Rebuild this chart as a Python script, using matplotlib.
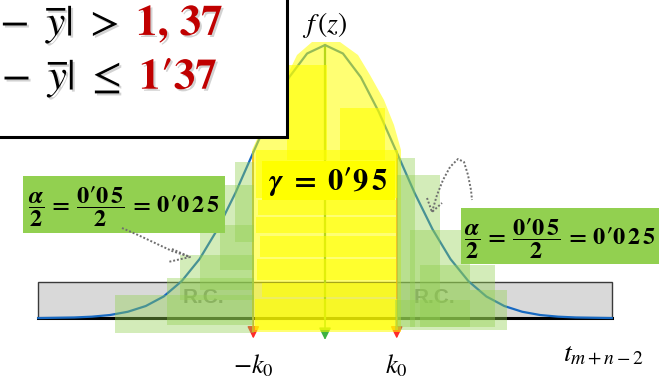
import matplotlib
matplotlib.use('Agg')
import matplotlib.pyplot as plt
from matplotlib.patches import Rectangle, Polygon
import matplotlib.patheffects as pe

plt.rcParams['mathtext.fontset'] = 'stix'

# density of the statistic, peak scaled to 1
z = [-4.0, -3.75, -3.5, -3.25, -3.0, -2.75, -2.5, -2.25, -2.0, -1.75, -1.5, -1.25,
     -1.0, -0.75, -0.5, -0.25, 0.0, 0.25, 0.5, 0.75, 1.0, 1.25, 1.5, 1.75,
     2.0, 2.25, 2.5, 2.75, 3.0, 3.25, 3.5, 3.75, 4.0]
f = [0.000, 0.001, 0.002, 0.005, 0.011, 0.023, 0.044, 0.079, 0.135, 0.216, 0.325, 0.458,
     0.607, 0.755, 0.882, 0.969, 1.000, 0.969, 0.882, 0.755, 0.607, 0.458, 0.325, 0.216,
     0.135, 0.079, 0.044, 0.023, 0.011, 0.005, 0.002, 0.001, 0.000]
k0 = 1.0
rc_pos = [-1.69, 1.53]
rc_text = ['R.C.', 'R.C.']

fig = plt.figure(figsize=(6.59, 3.80), dpi=100)

# ---- main axes: curve, critical values, rejection box
ax = fig.add_axes([0, 0, 1, 1])
ax.set_xlim(-4.533, 4.658)
ax.set_ylim(-0.227, 1.165)
ax.axis('off')

ax.add_patch(Rectangle((z[0], 0), z[-1] - z[0], 0.132, fc='#d9d9d9', ec='#3a3a3a', lw=1, zorder=1))
ax.plot([z[0], z[-1]], [0, 0], color='black', lw=2.2, zorder=2)
for xp, t in zip(rc_pos, rc_text):
    ax.text(xp, 0.077, t, color='#7f7f7f', fontsize=15, fontweight='bold',
            family='Liberation Sans', ha='center', va='center', zorder=3)
ax.plot(z, f, color='#1769c2', lw=1.6, zorder=4)

fk = f[z.index(k0)]
ax.plot([0, 0], [0, 1], color='#62a83a', lw=1.6, zorder=3)
for xk in (-k0, k0):
    ax.plot([xk, xk], [0, fk], color='#e8561c', lw=1.1, zorder=3)
    ax.annotate('', xy=(xk, -0.075), xytext=(xk, 0),
                arrowprops=dict(arrowstyle='-|>', color='#ff2a2a', lw=1.1,
                                mutation_scale=18, shrinkA=0, shrinkB=0), zorder=3)
ax.annotate('', xy=(0, -0.08), xytext=(0, 0),
            arrowprops=dict(arrowstyle='-|>', color='#3cb043', lw=1.1,
                            mutation_scale=18, shrinkA=0, shrinkB=0), zorder=3)

ax.text(-k0, -0.175, r'$-k_0$', fontsize=19, ha='center', va='center')
ax.text(k0, -0.175, r'$k_0$', fontsize=19, ha='center', va='center')
ax.text(3.88, -0.125, r'$t_{m+n-2}$', fontsize=20, ha='center', va='center')
ax.text(0, 1.075, r'$f\,(z)$', fontsize=20, ha='center', va='center')

# ---- overlay in pixel units for the highlighter strokes and notes
ov = fig.add_axes([0, 0, 1, 1])
ov.set_xlim(0, 659)
ov.set_ylim(380, 0)
ov.axis('off')

yel = '#ffff00'
blob = [(252, 332), (252, 150), (258, 137), (270, 110), (285, 80), (297, 55), (312, 42),
        (340, 42), (358, 55), (370, 75), (384, 100), (394, 125), (401, 150), (401, 332)]
ov.add_patch(Polygon(blob, closed=True, fc=yel, ec='none', alpha=0.55))
strokes = [(287, 65, 40, 95), (340, 108, 45, 52), (256, 150, 142, 48),
           (258, 200, 138, 15), (256, 217, 140, 16), (260, 236, 136, 21),
           (257, 259, 139, 21), (262, 283, 134, 14), (255, 299, 143, 31)]
for x0, y0, w, h in strokes:
    ov.add_patch(Rectangle((x0, y0), w, h, fc=yel, ec='none', alpha=0.6))

grn = '#92d050'
green_left = [(115, 295, 139, 38), (167, 278, 87, 47), (180, 255, 74, 45),
              (200, 225, 54, 65), (220, 185, 34, 85), (235, 162, 19, 80)]
green_right = [(397, 158, 18, 169), (397, 175, 43, 145), (410, 230, 60, 97),
               (420, 265, 75, 62), (470, 290, 37, 40), (395, 300, 75, 30)]
for x0, y0, w, h in green_left + green_right:
    ov.add_patch(Rectangle((x0, y0), w, h, fc=grn, ec='none', alpha=0.4))

# gamma label
ov.add_patch(Rectangle((262, 161), 133, 39, fc=yel, ec='none'))
ov.text(328, 182, r'$\boldsymbol{\gamma}\ \mathbf{=\ 0\prime9\,5}$', fontsize=22,
        ha='center', va='center')

# alpha/2 labels
frac = (r"$\dfrac{\boldsymbol{\alpha}}{\mathbf{2}}\,\mathbf{=}\,"
        r"\dfrac{\mathbf{0\prime0\,5}}{\mathbf{2}}\,\mathbf{=}\,\mathbf{0\prime0\,2\,5}$")
ov.add_patch(Rectangle((23, 176), 202, 57, fc=grn, ec='none'))
ov.text(124, 207, frac, fontsize=17.5, ha='center', va='center')
ov.add_patch(Rectangle((461, 208), 198, 56, fc=grn, ec='none'))
ov.text(560, 239, frac, fontsize=17.5, ha='center', va='center')

# pen scribbles pointing at the tails
pen = dict(color='#6f6f6f', lw=1.4, ls=(0, (1, 1)))
ov.plot([122, 138, 155, 172, 190], [228, 235, 243, 251, 257], **pen)
ov.plot([172, 190, 168], [249, 257, 262], **pen)
ov.plot([432, 437, 443, 450, 458, 464, 468, 471, 472],
        [212, 195, 180, 167, 159, 162, 175, 190, 200], **pen)
ov.plot([427, 432, 442], [198, 212, 203], **pen)

# hypothesis box, top left
ov.add_patch(Rectangle((-5, -5), 292, 142, fc='white', ec='black', lw=2.2, zorder=5))
sh = [pe.SimplePatchShadow(offset=(1.5, -1.5), shadow_rgbFace='gray', alpha=0.35), pe.Normal()]
ov.text(119, 35, r'$|\bar{x}\ -\ \overline{y}|\ >$', fontsize=31, ha='right', va='baseline',
        zorder=6, path_effects=sh)
ov.text(136, 35, r'$\mathbf{1,\,37}$', fontsize=31, color='#c00000', ha='left', va='baseline',
        zorder=6, path_effects=sh)
ov.text(121, 89, r'$|\bar{x}\ -\ \overline{y}|\ \leq$', fontsize=31, ha='right', va='baseline',
        zorder=6, path_effects=sh)
ov.text(139, 89, r'$\mathbf{1\prime37}$', fontsize=31, color='#c00000', ha='left', va='baseline',
        zorder=6, path_effects=sh)

fig.savefig('out.png', dpi=100)
